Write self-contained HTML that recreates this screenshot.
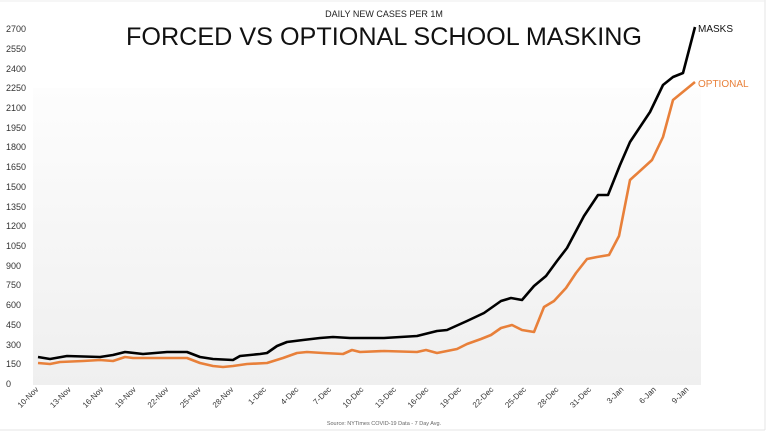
<!DOCTYPE html>
<html><head><meta charset="utf-8"><style>
body{margin:0;background:#fff;}
svg{display:block;font-family:"Liberation Sans",sans-serif;}
</style></head><body>
<svg width="768" height="432" viewBox="0 0 768 432">
<defs><linearGradient id="g" x1="0" y1="0" x2="0" y2="1"><stop offset="0" stop-color="#fdfdfd"/><stop offset="1" stop-color="#efefef"/></linearGradient></defs>
<rect x="0" y="0" width="768" height="432" fill="#fff"/>
<rect x="33" y="88" width="668" height="297" fill="url(#g)"/>
<line x1="765" y1="0" x2="765" y2="430" stroke="#e4e4e4"/>
<line x1="0" y1="430" x2="765" y2="430" stroke="#e4e4e4"/>
<line x1="0" y1="1" x2="765" y2="1" stroke="#eee"/>
<g font-size="9" fill="#333">
<text x="6" y="32">2700</text><text x="6" y="52">2550</text><text x="6" y="72">2400</text><text x="6" y="91">2250</text><text x="6" y="111">2100</text><text x="6" y="131">1950</text><text x="6" y="150">1800</text><text x="6" y="170">1650</text><text x="6" y="190">1500</text><text x="6" y="210">1350</text><text x="6" y="229">1200</text><text x="6" y="249">1050</text><text x="6" y="269">900</text><text x="6" y="288">750</text><text x="6" y="308">600</text><text x="6" y="328">450</text><text x="6" y="348">300</text><text x="6" y="367">150</text><text x="6" y="387">0</text>
</g>
<g font-size="8" fill="#333" text-anchor="end">
<text transform="translate(39,390) rotate(-45)">10-Nov</text>
<text transform="translate(71.5,390) rotate(-45)">13-Nov</text>
<text transform="translate(104,390) rotate(-45)">16-Nov</text>
<text transform="translate(136.5,390) rotate(-45)">19-Nov</text>
<text transform="translate(169,390) rotate(-45)">22-Nov</text>
<text transform="translate(201.5,390) rotate(-45)">25-Nov</text>
<text transform="translate(234,390) rotate(-45)">28-Nov</text>
<text transform="translate(266.5,390) rotate(-45)">1-Dec</text>
<text transform="translate(299,390) rotate(-45)">4-Dec</text>
<text transform="translate(331.5,390) rotate(-45)">7-Dec</text>
<text transform="translate(364,390) rotate(-45)">10-Dec</text>
<text transform="translate(396.5,390) rotate(-45)">13-Dec</text>
<text transform="translate(429,390) rotate(-45)">16-Dec</text>
<text transform="translate(461.5,390) rotate(-45)">19-Dec</text>
<text transform="translate(494,390) rotate(-45)">22-Dec</text>
<text transform="translate(526.5,390) rotate(-45)">25-Dec</text>
<text transform="translate(559,390) rotate(-45)">28-Dec</text>
<text transform="translate(591.5,390) rotate(-45)">31-Dec</text>
<text transform="translate(624,390) rotate(-45)">3-Jan</text>
<text transform="translate(656.5,390) rotate(-45)">6-Jan</text>
<text transform="translate(689,390) rotate(-45)">9-Jan</text>
</g>
<text x="384" y="17" font-size="9" text-anchor="middle" fill="#222">DAILY NEW CASES PER 1M</text>
<text x="384" y="45" font-size="25" text-anchor="middle" fill="#111" textLength="516" lengthAdjust="spacingAndGlyphs">FORCED VS OPTIONAL SCHOOL MASKING</text>
<text x="384" y="425" font-size="5.5" text-anchor="middle" fill="#666">Source: NYTimes COVID-19 Data - 7 Day Avg.</text>
<polyline fill="none" stroke="#e8803a" stroke-width="2.6" stroke-linejoin="round" points="38,363 50,364 60,362 83,361 100,360 113,361 125,357 133,358 187,358 200,363 213,366 223,367 233,366 247,364 267,363 283,358 297,353 307,352 323,353 343,354 352,350 360,352 384,351 417,352 426,350 437,353 447,351 457,349 467,344 481,339 491,335 501,328 512,325 522,330 534,332 544,307 554,301 566,288 576,273 587,259 597,257 609,255 619,236 630,180 652,160 663,137 673,100 695,82"/>
<polyline fill="none" stroke="#000" stroke-width="2.6" stroke-linejoin="round" points="38,357 50,359 67,356 100,357 113,355 125,352 143,354 167,352 187,352 200,357 213,359 233,360 240,356 260,354 267,353 277,346 287,342 303,340 320,338 333,337 350,338 384,338 417,336 437,331 447,330 467,321 484,313 501,301 511,298 522,300 534,286 546,276 557,261 567,248 584,216 598,195 608,195 620,165 630,142 650,112 663,85 673,77 683,73 695,27"/>
<text x="698" y="32" font-size="10" fill="#111">MASKS</text>
<text x="698" y="87" font-size="10" fill="#e8803a">OPTIONAL</text>
</svg>
</body></html>
